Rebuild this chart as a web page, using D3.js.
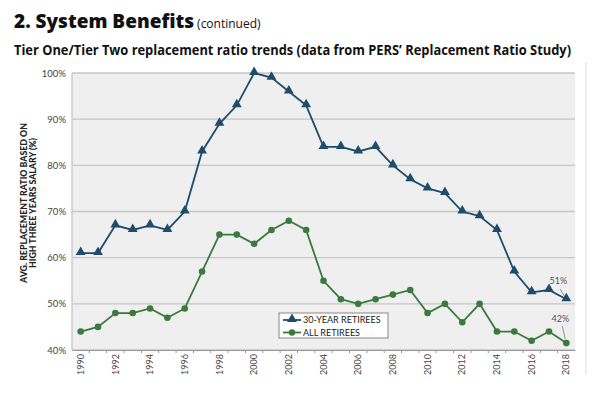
<!DOCTYPE html>
<html>
<head>
<meta charset="utf-8">
<script src="https://cdn.jsdelivr.net/npm/d3@7"></script>
<style>
  html, body { margin: 0; padding: 0; background: #fff; }
  svg { display: block; }
</style>
</head>
<body>
<svg id="chart" width="600" height="394"></svg>
<script>
// ---- data ----
const years = [1990,1991,1992,1993,1994,1995,1996,1997,1998,1999,2000,2001,2002,2003,2004,2005,2006,2007,2008,2009,2010,2011,2012,2013,2014,2015,2016,2017,2018];
const thirtyYear = [61,61,67,66,67,66,70,83,89,93,100,99,96,93,84,84,83,84,80,77,75,74,70,69,66,57,52.5,53,51];
const allRetirees = [44,45,48,48,49,47,49,57,65,65,63,66,68,66,55,51,50,51,52,53,48,50,46,50,44,44,42,44,41.5];
const yTicks = [40,50,60,70,80,90,100];
const xLabelYears = [1990,1992,1994,1996,1998,2000,2002,2004,2006,2008,2010,2012,2014,2016,2018];
const seriesNames = ["30-YEAR RETIREES", "ALL RETIREES"];
const endLabels = ["51%", "42%"];

const blue = "#1e4d6b", green = "#3b7a3d";
const svg = d3.select("#chart");

// titles
const t = svg.append("text").attr("x", 14).attr("y", 28);
t.append("tspan").text("2. System Benefits")
  .attr("font-family", "'Open Sans', sans-serif").attr("font-weight", 800)
  .attr("font-size", 19).attr("fill", "#111");
t.append("tspan").text(" (continued)")
  .attr("font-family", "'Open Sans', sans-serif").attr("font-weight", 400)
  .attr("font-size", 12).attr("fill", "#111");

svg.append("text").attr("x", 14).attr("y", 55)
  .attr("font-family", "'Open Sans', sans-serif").attr("font-weight", 700)
  .attr("font-size", 13.5).attr("fill", "#111")
  .attr("textLength", 557).attr("lengthAdjust", "spacingAndGlyphs")
  .text("Tier One/Tier Two replacement ratio trends (data from PERS\u2019 Replacement Ratio Study)");

// right page rule
svg.append("line").attr("x1", 586).attr("x2", 586).attr("y1", 62).attr("y2", 374)
  .attr("stroke", "#dcdcdc").attr("stroke-width", 1);

// plot area
const L = 72, R = 575, T = 73, B = 350;
const x = d3.scaleBand().domain(years).range([L, R]);
const y = d3.scaleLinear().domain([40, 100]).range([B, T]);
const cx = d => x(d) + x.bandwidth() / 2;

svg.append("rect").attr("x", L).attr("y", T).attr("width", R - L).attr("height", B - T)
  .attr("fill", "#efefef");

// gridlines
svg.append("g").selectAll("line").data(yTicks).join("line")
  .attr("x1", L).attr("x2", R).attr("y1", d => y(d)).attr("y2", d => y(d))
  .attr("stroke", "#c6c6c6").attr("stroke-width", 1.3);

// left axis line
svg.append("line").attr("x1", L).attr("x2", L).attr("y1", T).attr("y2", B)
  .attr("stroke", "#c6c6c6").attr("stroke-width", 1.3);

// y axis labels
const yAxis = d3.axisLeft(y).tickValues(yTicks).tickFormat(d => d + "%").tickSize(0).tickPadding(6);
const gy = svg.append("g").attr("transform", `translate(${L},0)`).call(yAxis);
gy.select(".domain").remove();
gy.selectAll("text").attr("font-family", "Lato, sans-serif").attr("font-size", 9.5).attr("fill", "#444");

// x axis
const xAxis = d3.axisBottom(x).tickValues(xLabelYears).tickSize(0).tickPadding(4);
const gx = svg.append("g").attr("transform", `translate(0,${B})`).call(xAxis);
gx.select(".domain").attr("stroke", "#999");
gx.selectAll("text")
  .attr("font-family", "Lato, sans-serif").attr("font-size", 9).attr("fill", "#444")
  .attr("transform", "rotate(-90)")
  .attr("text-anchor", "end").attr("dy", "0.35em")
  .attr("x", -4).attr("y", 0);
// boundary tick marks
svg.append("g").selectAll("line").data(years.slice(1)).join("line")
  .attr("x1", d => x(d)).attr("x2", d => x(d)).attr("y1", B).attr("y2", B + 3)
  .attr("stroke", "#999").attr("stroke-width", 1);

// y axis title
const yt = svg.append("text")
  .attr("transform", `translate(27,203) rotate(-90)`)
  .attr("text-anchor", "middle")
  .attr("font-family", "Lato, sans-serif").attr("font-weight", 900)
  .attr("font-size", 8.5).attr("fill", "#222");
yt.append("tspan").attr("x", 0).attr("dy", 0)
  .attr("textLength", 160).attr("lengthAdjust", "spacingAndGlyphs")
  .text("AVG. REPLACEMENT RATIO BASED ON");
yt.append("tspan").attr("x", 0).attr("dy", 8.5)
  .attr("textLength", 130).attr("lengthAdjust", "spacingAndGlyphs")
  .text("HIGH THREE YEARS SALARY (%)");

// lines
const line = d3.line().x((d, i) => cx(years[i])).y(d => y(d));
const tri = d3.symbol().type(d3.symbolTriangle).size(42);

svg.append("path").datum(thirtyYear).attr("d", line)
  .attr("fill", "none").attr("stroke", blue).attr("stroke-width", 1.8);
svg.append("g").selectAll("path").data(thirtyYear).join("path")
  .attr("d", tri).attr("transform", (d, i) => `translate(${cx(years[i])},${y(d) - 0.8})`)
  .attr("fill", blue);

svg.append("path").datum(allRetirees).attr("d", line)
  .attr("fill", "none").attr("stroke", green).attr("stroke-width", 1.8);
svg.append("g").selectAll("circle").data(allRetirees).join("circle")
  .attr("cx", (d, i) => cx(years[i])).attr("cy", d => y(d)).attr("r", 3.3)
  .attr("fill", green);

// end annotations
const last = years.length - 1;
const ann = [
  { v: thirtyYear[last], label: endLabels[0], tx: -8, ty: -15, l1: [-6, -10], l2: [-2, -3] },
  { v: allRetirees[last], label: endLabels[1], tx: -6, ty: -21, l1: [-4, -17], l2: [-1, -4] }
];
ann.forEach(a => {
  const px = cx(years[last]), py = y(a.v);
  svg.append("text").attr("x", px + a.tx).attr("y", py + a.ty)
    .attr("text-anchor", "middle")
    .attr("font-family", "Lato, sans-serif").attr("font-size", 9).attr("fill", "#555")
    .text(a.label);
  svg.append("line").attr("x1", px + a.l1[0]).attr("y1", py + a.l1[1])
    .attr("x2", px + a.l2[0]).attr("y2", py + a.l2[1])
    .attr("stroke", "#666").attr("stroke-width", 0.7);
});

// legend
const lg = svg.append("g").attr("transform", "translate(279,313)");
lg.append("rect").attr("width", 109).attr("height", 25)
  .attr("fill", "#fff").attr("stroke", "#888").attr("stroke-width", 1);
const colors = [blue, green];
seriesNames.forEach((n, i) => {
  const ry = 7 + i * 12.5;
  lg.append("line").attr("x1", 4).attr("x2", 22).attr("y1", ry).attr("y2", ry)
    .attr("stroke", colors[i]).attr("stroke-width", 1.8);
  if (i === 0) {
    lg.append("path").attr("d", tri).attr("transform", `translate(13,${ry - 0.8})`).attr("fill", blue);
  } else {
    lg.append("circle").attr("cx", 13).attr("cy", ry).attr("r", 3.2).attr("fill", green);
  }
  lg.append("text").attr("x", 24).attr("y", ry).attr("dy", "0.35em")
    .attr("font-family", "Lato, sans-serif").attr("font-size", 9).attr("fill", "#222")
    .text(n);
});
</script>
</body>
</html>
